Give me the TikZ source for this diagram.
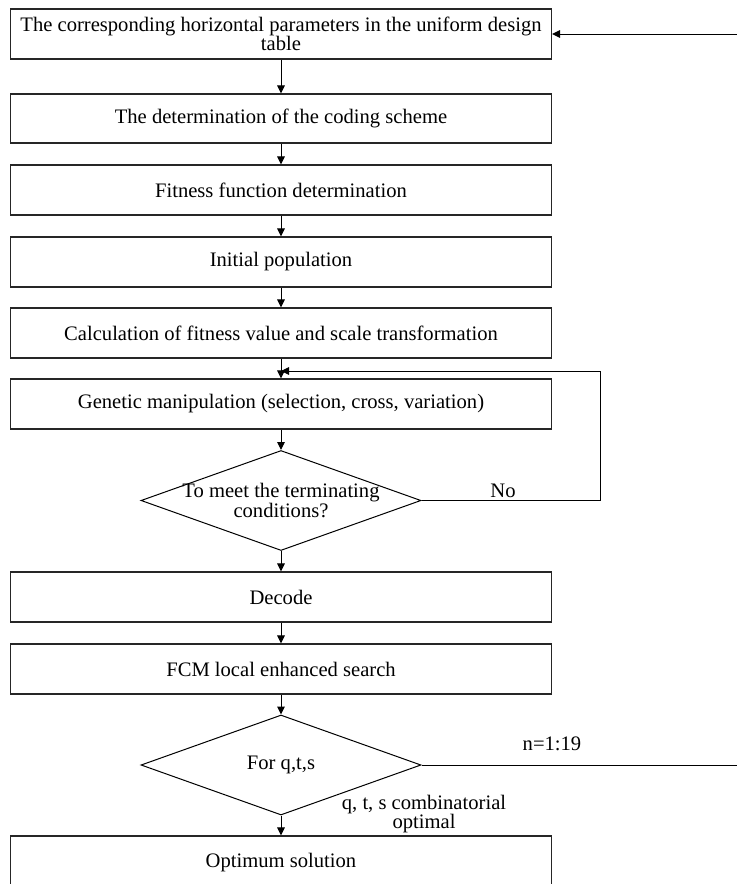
\documentclass[tikz,border=0pt]{standalone}
\usepackage{fontspec}
\setmainfont{Liberation Serif}
\usetikzlibrary{arrows.meta,shapes.geometric,positioning}

\begin{document}
\begin{tikzpicture}[x=0.5pt, y=-0.5pt,
    every node/.style={font=\fontsize{10.3}{9.6}\selectfont},
    stepbox/.style={draw=black!85, line width=0.6pt, minimum width=270.5pt, minimum height=25pt, inner sep=0pt, align=center},
    decision/.style={draw, diamond, line width=0.5pt, minimum width=140pt, minimum height=50pt, inner sep=0pt},
    flow/.style={-{Triangle[length=4pt,width=3.8pt]}, line width=0.5pt}]
    \useasboundingbox (0,0) rectangle (737,884);

    % Steps
    \node[stepbox] (table) at (281,34) {The corresponding horizontal parameters in the uniform design\\table};
    \node[stepbox, minimum height=24.5pt] (coding) at (281,118.5) {The determination of the coding scheme};
    \node[stepbox] (fitfun) at (281,190) {Fitness function determination};
    \node[stepbox] (initpop) at (281,262) {Initial population};
    \node[stepbox] (fitval) at (281,333) {Calculation of fitness value and scale transformation};
    \node[stepbox] (genetic) at (281,404) {Genetic manipulation (selection, cross, variation)};
    \node[decision, label={[align=center]center:To meet the terminating\\conditions?}] (term) at (281,500.5) {};
    \node[stepbox] (decode) at (281,597) {Decode};
    \node[stepbox] (fcm) at (281,669) {FCM local enhanced search};
    \node[decision, label={center:For q,t,s}] (forqts) at (281,765) {};
    \node[stepbox, minimum height=27pt] (optimum) at (281,863) {Optimum solution};

    % Free ends on the right
    \coordinate (topin) at (737,34);
    \coordinate (loopin) at (281,371);
    \coordinate (loopcorner) at (600,371);
    \coordinate (nout) at (737,765);

    % Main flow
    \draw[flow] (table) -- (coding);
    \draw[flow] (coding) -- (fitfun);
    \draw[flow] (fitfun) -- (initpop);
    \draw[flow] (initpop) -- (fitval);
    \draw[flow] (fitval) -- (genetic);
    \draw[flow] (genetic) -- (term);
    \draw[flow] (term) -- (decode);
    \draw[flow] (decode) -- (fcm);
    \draw[flow] (fcm) -- (forqts);
    \draw[flow] (forqts) -- (optimum);

    % Loops
    \draw[flow] (term.east) -| (loopcorner) -- (loopin);
    \draw[line width=0.5pt] (forqts.east) -- (nout);
    \draw[flow] (topin) -- (table.east);

    % Labels
    \node (no) at (503,491) {No};
    \node (nrange) at (552,744) {n=1:19};
    \node[align=center] (combopt) at (424,814) {q, t, s combinatorial\\optimal};
\end{tikzpicture}
\end{document}
